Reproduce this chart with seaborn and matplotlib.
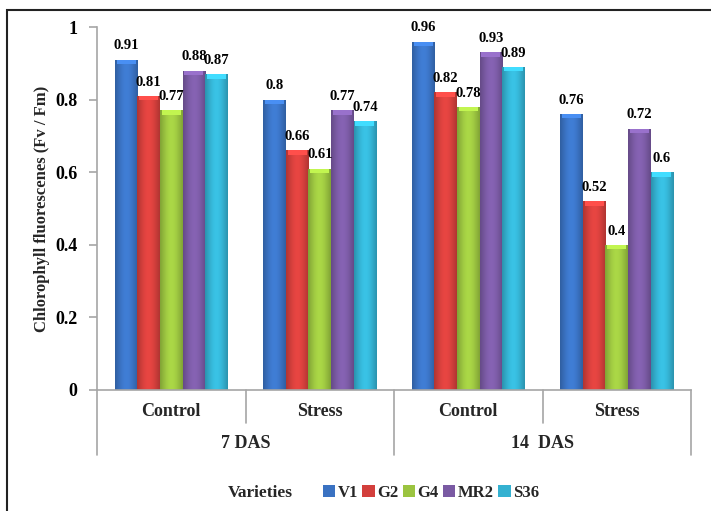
import numpy as np
import pandas as pd
import matplotlib
matplotlib.use("Agg")
import matplotlib.pyplot as plt
import matplotlib.colors as mcolors
from matplotlib.patches import Rectangle
import seaborn as sns

# Chlorophyll fluorescence (Fv/Fm) by variety, treatment and sampling day
periods = ["7 DAS", "14  DAS"]
treatments = ["Control", "Stress"]
varieties = ["V1", "G2", "G4", "MR2", "S36"]

v1 = [0.91, 0.80, 0.96, 0.76]
g2 = [0.81, 0.66, 0.82, 0.52]
g4 = [0.77, 0.61, 0.78, 0.40]
mr2 = [0.88, 0.77, 0.93, 0.72]
s36 = [0.87, 0.74, 0.89, 0.60]

colors = ["#3a72c2", "#d33f3c", "#9bc440", "#7a5aa3", "#34b1d1"]

series = dict(zip(varieties, [v1, g2, g4, mr2, s36]))
conditions = [f"{p}|{t}" for p in periods for t in treatments]
rows = []
for var, vals in series.items():
    for cond, val in zip(conditions, vals):
        rows.append({"condition": cond, "variety": var, "value": val})
df = pd.DataFrame(rows)

sns.set_theme(style="white")
plt.rcParams["font.family"] = ["Liberation Serif", "DejaVu Serif"]
plt.rcParams["font.weight"] = "bold"

fig = plt.figure(figsize=(7.11, 5.11), dpi=100)
ax = fig.add_axes([97 / 711, 1 - 390 / 511, (691 - 97) / 711, (390 - 27) / 511])

sns.barplot(data=df, x="condition", y="value", hue="variety",
            order=conditions, hue_order=varieties, palette=colors,
            width=0.76, gap=0.0, errorbar=None, ax=ax, saturation=1,
            edgecolor="none", linewidth=0)

ax.set_xlim(-0.5, 3.5)
ax.set_ylim(0, 1)

# soft cylindrical shading on every bar
for patch in list(ax.patches):
    bb = patch.get_bbox()
    if bb.width <= 0 or bb.height <= 0:
        continue
    rgb = np.array(mcolors.to_rgb(patch.get_facecolor()))
    t = np.linspace(0, 1, 40)
    shade = 0.76 + 0.34 * np.sin(np.pi * (0.12 + 0.76 * t)) ** 1.5
    img = np.clip(rgb[None, :] * shade[:, None], 0, 1)[None, :, :]
    im = ax.imshow(img, extent=[bb.x0, bb.x1, bb.y0, bb.y1], aspect="auto",
                   interpolation="bilinear", zorder=patch.get_zorder() + 0.1)
    im.set_clip_path(patch)
    # lighter bevel at the top of the bar
    top = min(0.012, bb.height)
    ax.add_patch(Rectangle((bb.x0 + 0.012, bb.y1 - top), bb.width - 0.024, top,
                           facecolor=np.clip(rgb * 1.25, 0, 1), edgecolor="none",
                           zorder=patch.get_zorder() + 0.2))
    ax.text((bb.x0 + bb.x1) / 2, bb.y1 + 0.02, f"{bb.y1:g}",
            ha="center", va="bottom", fontsize=10.5, fontweight="bold",
            color="black", zorder=5)

ax.set_xlim(-0.5, 3.5)
ax.set_ylim(0, 1)

legend_handles, legend_labels = ax.get_legend_handles_labels()
if ax.get_legend() is not None:
    ax.get_legend().remove()

# axes styling
for side in ("top", "right"):
    ax.spines[side].set_visible(False)
for side in ("left", "bottom"):
    ax.spines[side].set_color("#a6a6a6")
    ax.spines[side].set_linewidth(1.2)
ax.set_yticks([0, 0.2, 0.4, 0.6, 0.8, 1.0])
ax.set_yticklabels(["0", "0.2", "0.4", "0.6", "0.8", "1"])
ax.tick_params(axis="y", length=6, width=1.2, color="#a6a6a6", pad=8,
               labelsize=13, labelcolor="black", left=True)
ax.set_xticks([])
ax.set_xlabel("")
ax.set_ylabel("Chlorophyll fluorescenes (Fv / Fm)", fontsize=12,
              fontweight="bold", labelpad=4)
ax.grid(False)

# two-level category axis
trans = ax.get_xaxis_transform()
inner_len = -33 / 363
outer_len = -65 / 363
for xb in [-0.5, 1.5, 3.5]:
    ax.plot([xb, xb], [0, outer_len], transform=trans, color="#a6a6a6",
            lw=1.2, clip_on=False)
for xb in [0.5, 2.5]:
    ax.plot([xb, xb], [0, inner_len], transform=trans, color="#a6a6a6",
            lw=1.2, clip_on=False)
for i, cond in enumerate(conditions):
    ax.text(i, -21 / 363, cond.split("|")[1], transform=trans, ha="center",
            va="center", fontsize=13, fontweight="bold")
for j, p in enumerate(periods):
    ax.text(2 * j + 0.5, -53 / 363, p, transform=trans, ha="center",
            va="center", fontsize=13, fontweight="bold")

# legend
fig.text(293 / 711, 1 - 493 / 511, "Varieties", ha="right", va="center",
         fontsize=12.5, fontweight="bold")
fig.legend(legend_handles, legend_labels, ncol=5, loc="center left",
           bbox_to_anchor=(316 / 711, 1 - 493 / 511), frameon=False,
           handlelength=0.75, handleheight=0.75, handletextpad=0.15,
           columnspacing=0.25, borderaxespad=0,
           prop={"size": 12, "weight": "bold"})

# outer frame
fig.patches.append(Rectangle((7 / 711, -0.05), 1.1, 1 - 10 / 511 + 0.05,
                             transform=fig.transFigure, fill=False,
                             edgecolor="#222222", linewidth=1.5))

fig.savefig("out.png", dpi=100)
